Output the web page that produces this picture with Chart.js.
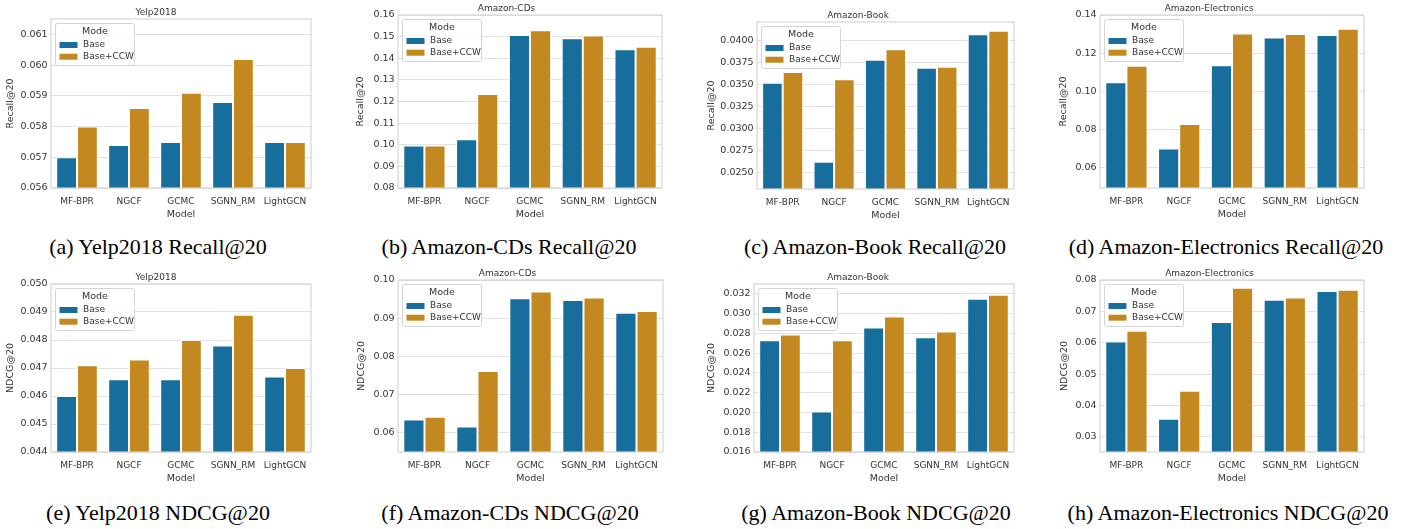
<!DOCTYPE html>
<html>
<head>
<meta charset="utf-8">
<script src="https://cdn.jsdelivr.net/npm/chart.js@4.4.1/dist/chart.umd.min.js"></script>
<style>
  body { margin: 0; width: 1401px; height: 529px; background: #fff; position: relative; overflow: hidden; }
  canvas { position: absolute; }
  .cap { position: absolute; font-family: "Liberation Serif", "Times New Roman", serif; font-size: 22px; color: #000; white-space: nowrap; transform: translate(-50%, -50%); }
</style>
</head>
<body>
<script>
// ---- DATA ----
const models = ["MF-BPR", "NGCF", "GCMC", "SGNN_RM", "LightGCN"];
const modes = ["Base", "Base+CCW"];

const yelpRecallBase = [0.0570, 0.0574, 0.0575, 0.0588, 0.0575];
const yelpRecallCcw  = [0.0580, 0.0586, 0.0591, 0.0602, 0.0575];
const cdsRecallBase  = [0.0996, 0.1026, 0.1507, 0.1493, 0.1442];
const cdsRecallCcw   = [0.0996, 0.1235, 0.1530, 0.1505, 0.1453];
const bookRecallBase = [0.0352, 0.0262, 0.0378, 0.0369, 0.0407];
const bookRecallCcw  = [0.0364, 0.0356, 0.0390, 0.0370, 0.0411];
const elecRecallBase = [0.1048, 0.0702, 0.1137, 0.1282, 0.1296];
const elecRecallCcw  = [0.1134, 0.0830, 0.1303, 0.1300, 0.1328];

const yelpNdcgBase = [0.0460, 0.0466, 0.0466, 0.0478, 0.0467];
const yelpNdcgCcw  = [0.0471, 0.0473, 0.0480, 0.0489, 0.0470];
const cdsNdcgBase  = [0.0635, 0.0617, 0.0952, 0.0948, 0.0914];
const cdsNdcgCcw   = [0.0642, 0.0762, 0.0970, 0.0954, 0.0919];
const bookNdcgBase = [0.0273, 0.0201, 0.0286, 0.0276, 0.0315];
const bookNdcgCcw  = [0.0279, 0.0273, 0.0297, 0.0282, 0.0319];
const elecNdcgBase = [0.0604, 0.0358, 0.0666, 0.0737, 0.0765];
const elecNdcgCcw  = [0.0638, 0.0447, 0.0775, 0.0744, 0.0769];

// tick labels
const yelpRecallTicks = [0.056, 0.057, 0.058, 0.059, 0.060, 0.061];
const cdsRecallTicks  = [0.08, 0.09, 0.10, 0.11, 0.12, 0.13, 0.14, 0.15, 0.16];
const bookRecallTicks = [0.0250, 0.0275, 0.0300, 0.0325, 0.0350, 0.0375, 0.0400];
const elecRecallTicks = [0.06, 0.08, 0.10, 0.12, 0.14];
const yelpNdcgTicks = [0.044, 0.045, 0.046, 0.047, 0.048, 0.049, 0.050];
const cdsNdcgTicks  = [0.06, 0.07, 0.08, 0.09, 0.10];
const bookNdcgTicks = [0.016, 0.018, 0.020, 0.022, 0.024, 0.026, 0.028, 0.030, 0.032];
const elecNdcgTicks = [0.03, 0.04, 0.05, 0.06, 0.07, 0.08];

// ---- STYLE ----
const FONT = '"DejaVu Sans", sans-serif';
const TXT = "#333333";
const BLUE = "#176d9c";
const ORANGE = "#c38820";

// panel setup: box = plot area [left, top, right, bottom], yTitleX = y label centre
const panels = [
  { title: "Yelp2018", yLabel: "Recall@20", base: yelpRecallBase, ccw: yelpRecallCcw, ticks: yelpRecallTicks, dec: 3, min: 0.056, max: 0.0615,
    box: [51, 19, 311, 188], yTitleX: 11, caption: "(a) Yelp2018 Recall@20", cap: [158, 247] },
  { title: "Amazon-CDs", yLabel: "Recall@20", base: cdsRecallBase, ccw: cdsRecallCcw, ticks: cdsRecallTicks, dec: 2, min: 0.08, max: 0.16,
    box: [398, 15, 662, 188], yTitleX: 361, caption: "(b) Amazon-CDs Recall@20", cap: [509, 247] },
  { title: "Amazon-Book", yLabel: "Recall@20", base: bookRecallBase, ccw: bookRecallCcw, ticks: bookRecallTicks, dec: 4, min: 0.0231, max: 0.0421,
    box: [757, 22, 1014, 189], yTitleX: 712, caption: "(c) Amazon-Book Recall@20", cap: [875, 247] },
  { title: "Amazon-Electronics", yLabel: "Recall@20", base: elecRecallBase, ccw: elecRecallCcw, ticks: elecRecallTicks, dec: 2, min: 0.0495, max: 0.14,
    box: [1100, 15, 1364, 188], yTitleX: 1064, caption: "(d) Amazon-Electronics Recall@20", cap: [1226, 247] },
  { title: "Yelp2018", yLabel: "NDCG@20", base: yelpNdcgBase, ccw: yelpNdcgCcw, ticks: yelpNdcgTicks, dec: 3, min: 0.044, max: 0.050,
    box: [51, 284, 311, 452], yTitleX: 11, caption: "(e) Yelp2018 NDCG@20", cap: [158, 513] },
  { title: "Amazon-CDs", yLabel: "NDCG@20", base: cdsNdcgBase, ccw: cdsNdcgCcw, ticks: cdsNdcgTicks, dec: 2, min: 0.055, max: 0.10,
    box: [398, 280, 663, 452], yTitleX: 362, caption: "(f) Amazon-CDs NDCG@20", cap: [510, 513] },
  { title: "Amazon-Book", yLabel: "NDCG@20", base: bookNdcgBase, ccw: bookNdcgCcw, ticks: bookNdcgTicks, dec: 3, min: 0.016, max: 0.033,
    box: [754, 284, 1014, 452], yTitleX: 712, caption: "(g) Amazon-Book NDCG@20", cap: [876, 513] },
  { title: "Amazon-Electronics", yLabel: "NDCG@20", base: elecNdcgBase, ccw: elecNdcgCcw, ticks: elecNdcgTicks, dec: 2, min: 0.0252, max: 0.08,
    box: [1100, 280, 1364, 452], yTitleX: 1065, caption: "(h) Amazon-Electronics NDCG@20", cap: [1228, 513] }
];

// light grey frame round the plot area (seaborn whitegrid spines)
const framePlugin = {
  id: "frame",
  afterDatasetsDraw(chart) {
    const { ctx, chartArea: a } = chart;
    ctx.save();
    ctx.strokeStyle = "#d6d6d6";
    ctx.lineWidth = 1.2;
    ctx.strokeRect(a.left, a.top, a.right - a.left, a.bottom - a.top);
    ctx.restore();
  }
};

// legend box inside the plot, upper left, with "Mode" title
const modeLegend = {
  id: "modeLegend",
  afterDraw(chart) {
    const { ctx, chartArea: a } = chart;
    const x = a.left + 4.5, y = a.top + 4.5, w = 79, h = 42;
    ctx.save();
    ctx.fillStyle = "rgba(255,255,255,0.85)";
    ctx.strokeStyle = "#d4d4d4";
    ctx.lineWidth = 1;
    ctx.beginPath();
    ctx.roundRect(x, y, w, h, 2);
    ctx.fill();
    ctx.stroke();
    ctx.fillStyle = TXT;
    ctx.font = "9.5px " + FONT;
    ctx.textAlign = "center";
    ctx.textBaseline = "middle";
    ctx.fillText("Mode", x + w / 2, y + 8.5);
    ctx.textAlign = "left";
    ctx.font = "9px " + FONT;
    chart.data.datasets.forEach((ds, i) => {
      const cy = y + 21.5 + i * 11.7;
      ctx.fillStyle = ds.backgroundColor;
      ctx.fillRect(x + 4, cy - 3, 18, 6);
      ctx.fillStyle = TXT;
      ctx.fillText(ds.label, x + 27.5, cy);
    });
    ctx.restore();
  }
};

panels.forEach(p => {
  const [L, T, R, B] = p.box;
  const W = L - p.yTitleX + 10;   // width of the y axis block
  const left = L - W, top = T - 20;

  const canvas = document.createElement("canvas");
  canvas.width = R - left + 4;
  canvas.height = B + 32 - top;
  canvas.style.left = left + "px";
  canvas.style.top = top + "px";
  document.body.appendChild(canvas);

  new Chart(canvas, {
    type: "bar",
    data: {
      labels: models,
      datasets: [
        { label: modes[0], data: p.base, backgroundColor: BLUE, borderColor: "#ffffff", borderWidth: 1, categoryPercentage: 0.8, barPercentage: 1 },
        { label: modes[1], data: p.ccw, backgroundColor: ORANGE, borderColor: "#ffffff", borderWidth: 1, categoryPercentage: 0.8, barPercentage: 1 }
      ]
    },
    options: {
      responsive: false,
      animation: false,
      devicePixelRatio: 1,
      layout: { padding: { left: 0, right: 4, top: 0, bottom: 0 } },
      plugins: {
        legend: { display: false },
        tooltip: { enabled: false },
        title: {
          display: true, text: p.title, color: TXT,
          font: { family: FONT, size: 9, weight: "normal" },
          padding: { top: 8.2, bottom: 1 }
        }
      },
      scales: {
        x: {
          grid: { display: false },
          border: { display: false },
          ticks: { color: TXT, font: { family: FONT, size: 9 }, padding: 0, maxRotation: 0, autoSkip: false },
          title: { display: true, text: "Model", color: TXT, font: { family: FONT, size: 9.5 }, padding: { top: 3.3, bottom: 0 } },
          afterFit(s) { s.height = 32; }
        },
        y: {
          min: p.min,
          max: p.max,
          grid: { color: "#e2e2e2", lineWidth: 1, drawTicks: false },
          border: { display: false },
          ticks: { color: TXT, font: { family: FONT, size: 9.5 }, padding: 3.4, callback: v => Number(v).toFixed(p.dec) },
          afterBuildTicks(s) { s.ticks = p.ticks.map(v => ({ value: v })); },
          title: { display: true, text: p.yLabel, color: TXT, font: { family: FONT, size: 9.5 }, padding: { top: 4.3, bottom: 0 } },
          afterFit(s) { s.width = W; }
        }
      }
    },
    plugins: [framePlugin, modeLegend]
  });

  const cap = document.createElement("div");
  cap.className = "cap";
  cap.textContent = p.caption;
  cap.style.left = p.cap[0] + "px";
  cap.style.top = p.cap[1] + "px";
  document.body.appendChild(cap);
});
</script>
</body>
</html>
